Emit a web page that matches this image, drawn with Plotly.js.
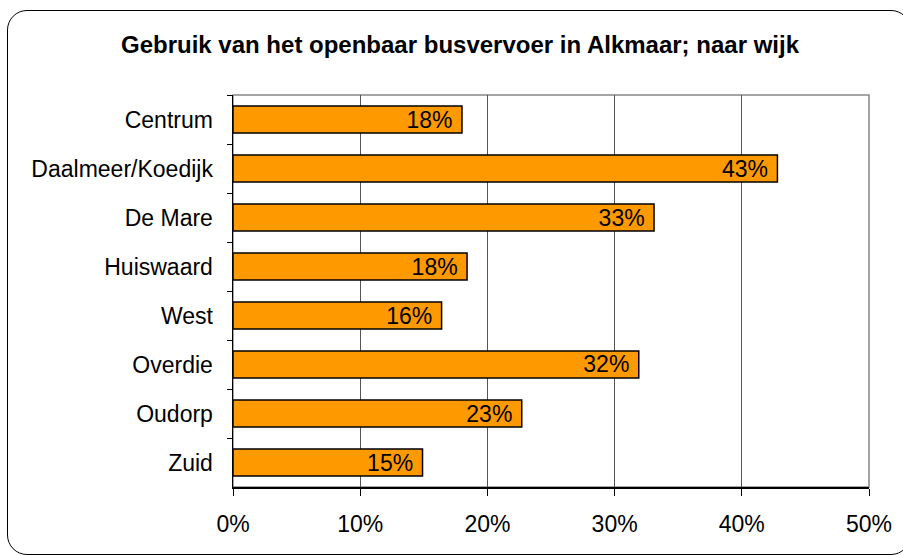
<!DOCTYPE html>
<html>
<head>
<meta charset="utf-8">
<script src="https://cdn.plot.ly/plotly-3.0.1.min.js"></script>
<style>
  html, body { margin: 0; padding: 0; background: #fff; overflow: hidden; }
  #wrap { position: relative; width: 903px; height: 555px; }
  #chart { position: absolute; left: 0; top: 0; width: 903px; height: 555px; }
  #frame { position: absolute; left: 7px; top: 10px; width: 904px; height: 545px;
           border: 1.5px solid #000; border-radius: 20px; box-sizing: border-box; pointer-events: none; }
</style>
</head>
<body>
<div id="wrap">
  <div id="chart"></div>
  <div id="frame"></div>
</div>
<script>
const titleText = 'Gebruik van het openbaar busvervoer in Alkmaar; naar wijk';
const categories = ['Centrum', 'Daalmeer/Koedijk', 'De Mare', 'Huiswaard', 'West', 'Overdie', 'Oudorp', 'Zuid'];
const values = [18.0, 42.8, 33.1, 18.4, 16.4, 31.9, 22.7, 14.9];
const tickValues = [0, 10, 20, 30, 40, 50];
const tickLabels = ['0%', '10%', '20%', '30%', '40%', '50%'];

const FONT = 'Liberation Sans, Arial, sans-serif';

const trace = {
  type: 'bar',
  orientation: 'h',
  y: categories,
  x: values,
  marker: { color: '#FF9900', line: { color: '#000', width: 1.5 } },
  texttemplate: '%{x:.0f}%\u00a0',
  textposition: 'inside',
  insidetextanchor: 'end',
  constraintext: 'none',
  insidetextfont: { family: FONT, size: 23, color: '#000' },
  hoverinfo: 'none',
  cliponaxis: false
};

const layout = {
  width: 903,
  height: 555,
  margin: { l: 233, r: 34, t: 95, b: 68 },
  paper_bgcolor: '#fff',
  plot_bgcolor: '#fff',
  showlegend: false,
  bargap: 0.45,
  font: { family: FONT, size: 23, color: '#000' },
  title: {
    text: '<b>' + titleText + '</b>',
    font: { family: FONT, size: 24, color: '#000' },
    xref: 'container', x: 460 / 903, xanchor: 'center',
    yref: 'container', y: 1 - 45 / 555, yanchor: 'middle'
  },
  xaxis: {
    range: [0, 50],
    tickvals: tickValues,
    ticktext: tickLabels,
    showgrid: true,
    gridcolor: '#555',
    gridwidth: 1,
    zeroline: false,
    showline: true,
    linecolor: '#000',
    linewidth: 1.5,
    ticks: 'outside',
    ticklen: 7,
    tickcolor: '#000',
    ticklabelstandoff: 9,
    tickfont: { family: FONT, size: 23, color: '#000' },
    fixedrange: true
  },
  yaxis: {
    type: 'category',
    autorange: 'reversed',
    showgrid: false,
    zeroline: false,
    showline: true,
    linecolor: '#000',
    linewidth: 1.5,
    ticks: 'outside',
    tickson: 'boundaries',
    ticklen: 5,
    tickcolor: '#000',
    ticklabelstandoff: 14,
    tickfont: { family: FONT, size: 23, color: '#000' },
    fixedrange: true
  },
  shapes: [{
    type: 'rect', xref: 'paper', yref: 'paper', x0: 0, x1: 1, y0: 0, y1: 1,
    line: { color: '#888', width: 1.5 }, layer: 'below'
  }]
};

Plotly.newPlot('chart', [trace], layout, { displayModeBar: false, staticPlot: true });
</script>
</body>
</html>
